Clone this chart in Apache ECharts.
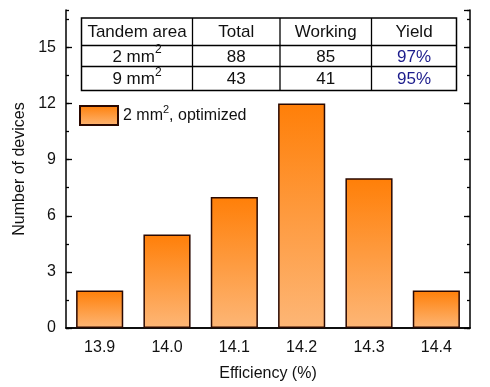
<!DOCTYPE html>
<html><head><meta charset="utf-8">
<script src="https://cdn.jsdelivr.net/npm/echarts@6/dist/echarts.min.js"></script>
<style>html,body{margin:0;padding:0;background:#fff}#c{width:490px;height:387px}</style>
</head><body><div id="c"></div>
<script>
const categories = ['13.9', '14.0', '14.1', '14.2', '14.3', '14.4'];
const counts = [2, 5, 7, 12, 8, 2];
const seriesName = '2 mm², optimized';
const yTickLabels = [0, 3, 6, 9, 12, 15];
const tableHeader = ['Tandem area', 'Total', 'Working', 'Yield'];
const tableRow1 = ['2 mm²', '88', '85', '97%'];
const tableRow2 = ['9 mm²', '43', '41', '95%'];

const FONT = '"Liberation Sans", Arial, sans-serif';
const chart = echarts.init(document.getElementById('c'));
const supRich = {sup: {fontSize: 12, fontFamily: FONT, color: '#111', verticalAlign: 'middle', padding: [0, 0, 14, 0]}};
const toRich = s => s.replace('²', '{sup|2}');

// table layout
const colX = [81.5, 192.5, 280, 371.5, 456.5];
const rowY = [18, 45.5, 66.5, 90.5];
const tableRows = [tableHeader, tableRow1, tableRow2];
const graphics = [];
graphics.push({type: 'rect', shape: {x: colX[0], y: rowY[0], width: colX[4] - colX[0], height: rowY[3] - rowY[0]},
  style: {fill: '#fff', stroke: '#000', lineWidth: 1.5}, z: 100});
for (let i = 1; i < 4; i++) graphics.push({type: 'line', shape: {x1: colX[i], y1: rowY[0], x2: colX[i], y2: rowY[3]}, style: {stroke: '#000', lineWidth: 1.3}, z: 101});
for (let j = 1; j < 3; j++) graphics.push({type: 'line', shape: {x1: colX[0], y1: rowY[j], x2: colX[4], y2: rowY[j]}, style: {stroke: '#000', lineWidth: 1.3}, z: 101});
tableRows.forEach((row, r) => {
  row.forEach((txt, c) => {
    graphics.push({type: 'text', z: 102,
      x: (colX[c] + colX[c + 1]) / 2, y: (rowY[r] + rowY[r + 1]) / 2 + 1,
      style: {text: toRich(txt), fill: (c === 3 && r > 0) ? '#1c1c8c' : '#111', font: '17px ' + FONT,
        align: 'center', verticalAlign: 'middle', rich: supRich}});
  });
});

const grid = {left: 66, right: 20, top: 10, bottom: 53};
const yMax = 17;
function yAx(pos, interval, len, labels, line) {
  return {type: 'value', position: pos, min: 0, max: yMax, interval: interval,
    axisLine: {show: line, lineStyle: {color: '#000', width: 1.5}},
    axisTick: {show: true, inside: true, length: len, lineStyle: {color: '#000', width: 1.3}},
    splitLine: {show: false},
    axisLabel: {show: labels, showMaxLabel: false, color: '#111', fontSize: 16, fontFamily: FONT, margin: 10,
      formatter: v => yTickLabels.indexOf(v) >= 0 ? String(v) : ''},
    name: labels ? 'Number of devices' : '', nameLocation: 'middle', nameGap: 35,
    nameTextStyle: {color: '#111', fontSize: 16, fontFamily: FONT}};
}

chart.setOption({
  animation: false,
  grid: grid,
  legend: {left: 79, top: 104, padding: 0, itemWidth: 38, itemHeight: 19, itemGap: 10,
    icon: 'rect',
    data: [seriesName],
    formatter: name => toRich(name),
    textStyle: {color: '#111', fontSize: 16, fontFamily: FONT,
      rich: {sup: {fontSize: 11, fontFamily: FONT, color: '#111', verticalAlign: 'middle', padding: [0, 0, 12, 0]}}}},
  xAxis: [
    {type: 'category', data: categories, position: 'bottom',
      axisLine: {lineStyle: {color: '#000', width: 1.5}},
      axisTick: {inside: true, length: 5, lineStyle: {color: '#000', width: 1.3}},
      axisLabel: {color: '#111', fontSize: 16, fontFamily: FONT, margin: 12},
      name: 'Efficiency (%)', nameLocation: 'middle', nameGap: 38,
      nameTextStyle: {color: '#111', fontSize: 16, fontFamily: FONT}},
    {type: 'category', data: categories, position: 'top',
      axisLine: {lineStyle: {color: '#000', width: 1.5}},
      axisTick: {inside: true, length: 5, lineStyle: {color: '#000', width: 1.3}},
      axisLabel: {show: false}}
  ],
  yAxis: [
    yAx('left', 3, 6, true, true),
    yAx('left', 1.5, 3, false, false),
    yAx('right', 3, 6, false, true),
    yAx('right', 1.5, 3, false, false)
  ],
  series: [{
    type: 'bar', name: seriesName, data: counts, barWidth: '70%', xAxisIndex: 0, yAxisIndex: 0,
    itemStyle: {
      color: {type: 'linear', x: 0, y: 0, x2: 0, y2: 1, colorStops: [
        {offset: 0, color: '#FF7F08'}, {offset: 1, color: '#FDB676'}]},
      borderColor: '#2a0800', borderWidth: 1.5
    }
  }],
  graphic: graphics
});
</script></body></html>
